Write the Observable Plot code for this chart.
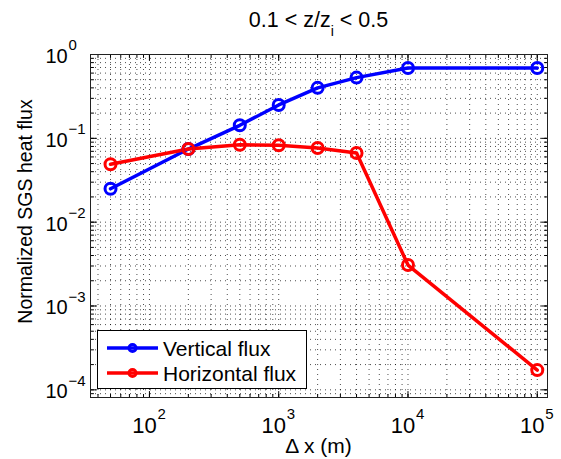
<!DOCTYPE html>
<html>
<head>
<meta charset="utf-8">
<script src="https://cdn.jsdelivr.net/npm/d3@7"></script>
<script src="https://cdn.jsdelivr.net/npm/@observablehq/plot@0.6"></script>
<style>
  html, body { margin: 0; padding: 0; background: #fff; }
  svg { display: block; }
</style>
</head>
<body>
<div id="chart"></div>
<script>
// Data
const dx = [50, 200, 500, 1000, 2000, 4000, 10000, 100000];
const verticalFlux = [0.025, 0.0745, 0.143, 0.25, 0.40, 0.53, 0.69, 0.69];
const horizontalFlux = [0.049, 0.0745, 0.084, 0.0826, 0.0767, 0.0668, 0.00308, 0.000172];
const seriesNames = ["Vertical flux", "Horizontal flux"];
const seriesColors = ["#0000ff", "#ff0000"];
const xMajor = [100, 1000, 10000, 100000];
const xMajorExp = ["2", "3", "4", "5"];
const yMajor = [1, 0.1, 0.01, 0.001, 0.0001];
const yMajorExp = ["0", "\u22121", "\u22122", "\u22123", "\u22124"];
const xDomain = [35, 120000];
const yDomain = [8.1e-5, 1];

const rows = [];
dx.forEach((d, i) => {
  rows.push({dx: d, v: verticalFlux[i], s: seriesNames[0]});
  rows.push({dx: d, v: horizontalFlux[i], s: seriesNames[1]});
});

const xMinor = [];
for (let k = 1; k <= 5; k++) for (let m = 1; m <= 9; m++) {
  const v = m * 10 ** k;
  if (v >= xDomain[0] && v <= xDomain[1]) xMinor.push(v);
}
const yMinor = [];
for (let k = -5; k <= 0; k++) for (let m = 1; m <= 9; m++) {
  const v = m * 10 ** k;
  if (v >= yDomain[0] && v <= yDomain[1] * 1.0001) yMinor.push(v);
}

const font = "Liberation Sans, Arial, Helvetica, sans-serif";
const tickShape = {draw(c, l) { c.moveTo(0, 0); c.lineTo(0, -l); }};
const tick = (data, ch, anchor, rotate, length) =>
  Plot.vector(data, {[ch]: d => d, frameAnchor: anchor, rotate, length, anchor: "start", shape: tickShape, stroke: "black", strokeWidth: 1});

const plot = Plot.plot({
  width: 561,
  height: 459,
  marginLeft: 90,
  marginRight: 14,
  marginTop: 54,
  marginBottom: 62,
  style: {fontFamily: font, background: "white"},
  x: {type: "log", domain: xDomain, axis: null},
  y: {type: "log", domain: yDomain, axis: null},
  color: {domain: seriesNames, range: seriesColors},
  marks: [
    Plot.ruleX(xMinor, {x: d => d, stroke: "black", strokeWidth: 1, strokeDasharray: "1,4", strokeOpacity: 0.7}),
    Plot.ruleY(yMinor, {y: d => d, stroke: "black", strokeWidth: 1, strokeDasharray: "1,4", strokeOpacity: 0.7}),
    tick(xMajor, "x", "bottom", 0, 6),
    tick(xMajor, "x", "top", 180, 6),
    tick(xMinor, "x", "bottom", 0, 3),
    tick(xMinor, "x", "top", 180, 3),
    tick(yMajor, "y", "left", 90, 6),
    tick(yMajor, "y", "right", -90, 6),
    tick(yMinor, "y", "left", 90, 3),
    tick(yMinor, "y", "right", -90, 3),
    Plot.frame({stroke: "#222", strokeWidth: 1}),
    Plot.line(rows, {x: "dx", y: "v", z: "s", stroke: "s", strokeWidth: 3.5, strokeLinejoin: "round"}),
    Plot.dot(rows, {x: "dx", y: "v", stroke: "s", r: 5.5, strokeWidth: 3, fill: "none"}),
    // x tick labels
    Plot.text(xMajor, {x: d => d, frameAnchor: "bottom", text: () => "10", dx: -5, dy: 35, lineAnchor: "bottom", fontSize: 22, fill: "black"}),
    Plot.text(xMajor, {x: d => d, frameAnchor: "bottom", text: (d, i) => xMajorExp[i], dx: 8, dy: 21, lineAnchor: "bottom", textAnchor: "start", fontSize: 15, fill: "black"}),
    // y tick labels
    Plot.text(yMajor, {y: d => d, frameAnchor: "left", text: () => "10", dx: -45, dy: 2, textAnchor: "start", fontSize: 20, fill: "black"}),
    Plot.text(yMajor, {y: d => d, frameAnchor: "left", text: (d, i) => yMajorExp[i], dx: -22, dy: -9, textAnchor: "start", fontSize: 15, fill: "black"})
  ]
});

document.getElementById("chart").appendChild(plot);

const svg = d3.select(plot);
const cx = (90 + 561 - 14) / 2;

// Title
const t = svg.append("text").attr("x", cx).attr("y", 26.7).attr("text-anchor", "middle")
  .attr("font-family", font).attr("font-size", 21.5).attr("fill", "black");
t.append("tspan").text("0.1 < z/z");
t.append("tspan").attr("dy", 9).attr("font-size", 14).text("i");
t.append("tspan").attr("dy", -9).text(" < 0.5");

// x label
svg.append("text").attr("x", cx).attr("y", 453).attr("text-anchor", "middle")
  .attr("font-family", font).attr("font-size", 21).attr("fill", "black").text("\u0394 x (m)");

// y label
svg.append("text").attr("transform", `translate(32,211.5) rotate(-90)`)
  .attr("text-anchor", "middle").attr("font-family", font).attr("font-size", 19.5).attr("fill", "black")
  .text("Normalized SGS heat flux");

// Legend
const lg = svg.append("g");
lg.append("rect").attr("x", 97.5).attr("y", 330.5).attr("width", 209).attr("height", 58)
  .attr("fill", "white").attr("stroke", "black").attr("stroke-width", 1);
seriesNames.forEach((name, i) => {
  const yy = 348 + i * 25;
  lg.append("line").attr("x1", 107).attr("x2", 158).attr("y1", yy).attr("y2", yy)
    .attr("stroke", seriesColors[i]).attr("stroke-width", 3.5);
  lg.append("circle").attr("cx", 132.5).attr("cy", yy).attr("r", 3.5)
    .attr("fill", "none").attr("stroke", seriesColors[i]).attr("stroke-width", 3);
  lg.append("text").attr("x", 163).attr("y", yy).attr("dy", "0.36em").attr("text-anchor", "start")
    .attr("font-family", font).attr("font-size", 21).attr("fill", "black").text(name);
});
</script>
</body>
</html>
